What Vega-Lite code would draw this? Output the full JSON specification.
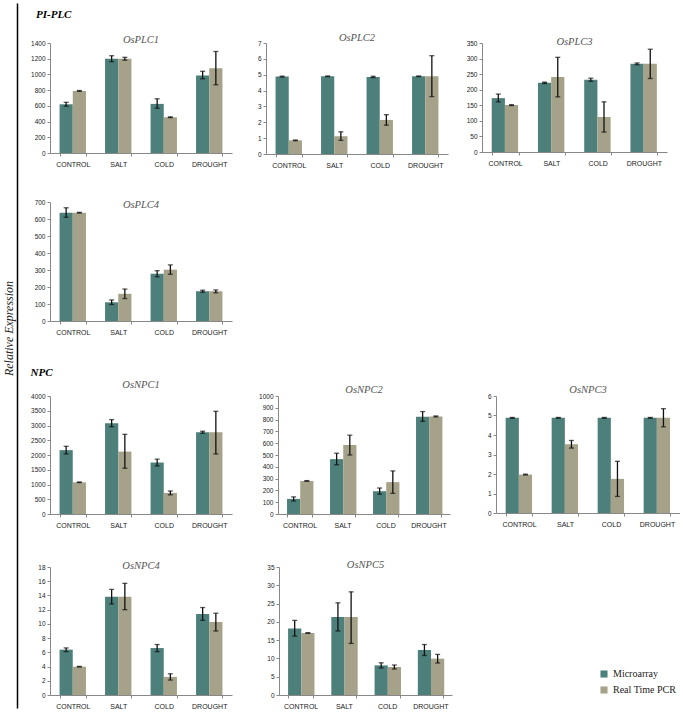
{
  "$schema": "https://vega.github.io/schema/vega-lite/v6.json",
  "padding": {"left": 2, "top": 3, "right": 0, "bottom": 0},
  "background": "white",
  "datasets": {
    "empty": [],
    "expr": [
      {"gene": "OsPLC1", "condition": "CONTROL", "method": "Microarray", "value": 620, "lo": 595, "hi": 645},
      {"gene": "OsPLC1", "condition": "CONTROL", "method": "Real Time PCR", "value": 790, "lo": 785, "hi": 795},
      {"gene": "OsPLC1", "condition": "SALT", "method": "Microarray", "value": 1200, "lo": 1162, "hi": 1238},
      {"gene": "OsPLC1", "condition": "SALT", "method": "Real Time PCR", "value": 1200, "lo": 1182, "hi": 1218},
      {"gene": "OsPLC1", "condition": "COLD", "method": "Microarray", "value": 625, "lo": 570, "hi": 690},
      {"gene": "OsPLC1", "condition": "COLD", "method": "Real Time PCR", "value": 455, "lo": 450, "hi": 460},
      {"gene": "OsPLC1", "condition": "DROUGHT", "method": "Microarray", "value": 985, "lo": 945, "hi": 1040},
      {"gene": "OsPLC1", "condition": "DROUGHT", "method": "Real Time PCR", "value": 1080, "lo": 868, "hi": 1292},
      {"gene": "OsPLC2", "condition": "CONTROL", "method": "Microarray", "value": 4.88, "lo": 4.85, "hi": 4.91},
      {"gene": "OsPLC2", "condition": "CONTROL", "method": "Real Time PCR", "value": 0.86, "lo": 0.84, "hi": 0.88},
      {"gene": "OsPLC2", "condition": "SALT", "method": "Microarray", "value": 4.9, "lo": 4.88, "hi": 4.92},
      {"gene": "OsPLC2", "condition": "SALT", "method": "Real Time PCR", "value": 1.12, "lo": 0.86, "hi": 1.4},
      {"gene": "OsPLC2", "condition": "COLD", "method": "Microarray", "value": 4.86, "lo": 4.82, "hi": 4.9},
      {"gene": "OsPLC2", "condition": "COLD", "method": "Real Time PCR", "value": 2.15, "lo": 1.82, "hi": 2.48},
      {"gene": "OsPLC2", "condition": "DROUGHT", "method": "Microarray", "value": 4.9, "lo": 4.88, "hi": 4.92},
      {"gene": "OsPLC2", "condition": "DROUGHT", "method": "Real Time PCR", "value": 4.9, "lo": 3.62, "hi": 6.2},
      {"gene": "OsPLC3", "condition": "CONTROL", "method": "Microarray", "value": 173, "lo": 161, "hi": 186},
      {"gene": "OsPLC3", "condition": "CONTROL", "method": "Real Time PCR", "value": 151, "lo": 149, "hi": 152},
      {"gene": "OsPLC3", "condition": "SALT", "method": "Microarray", "value": 222, "lo": 220, "hi": 224},
      {"gene": "OsPLC3", "condition": "SALT", "method": "Real Time PCR", "value": 241, "lo": 177, "hi": 304},
      {"gene": "OsPLC3", "condition": "COLD", "method": "Microarray", "value": 232, "lo": 227, "hi": 237},
      {"gene": "OsPLC3", "condition": "COLD", "method": "Real Time PCR", "value": 112, "lo": 64, "hi": 161},
      {"gene": "OsPLC3", "condition": "DROUGHT", "method": "Microarray", "value": 283, "lo": 280, "hi": 286},
      {"gene": "OsPLC3", "condition": "DROUGHT", "method": "Real Time PCR", "value": 283, "lo": 236, "hi": 330},
      {"gene": "OsPLC4", "condition": "CONTROL", "method": "Microarray", "value": 637, "lo": 610, "hi": 666},
      {"gene": "OsPLC4", "condition": "CONTROL", "method": "Real Time PCR", "value": 637, "lo": 635, "hi": 639},
      {"gene": "OsPLC4", "condition": "SALT", "method": "Microarray", "value": 110, "lo": 97, "hi": 124},
      {"gene": "OsPLC4", "condition": "SALT", "method": "Real Time PCR", "value": 160, "lo": 132, "hi": 188},
      {"gene": "OsPLC4", "condition": "COLD", "method": "Microarray", "value": 278, "lo": 260, "hi": 296},
      {"gene": "OsPLC4", "condition": "COLD", "method": "Real Time PCR", "value": 302, "lo": 275, "hi": 330},
      {"gene": "OsPLC4", "condition": "DROUGHT", "method": "Microarray", "value": 175, "lo": 169, "hi": 181},
      {"gene": "OsPLC4", "condition": "DROUGHT", "method": "Real Time PCR", "value": 175, "lo": 166, "hi": 183},
      {"gene": "OsNPC1", "condition": "CONTROL", "method": "Microarray", "value": 2165, "lo": 2035, "hi": 2295},
      {"gene": "OsNPC1", "condition": "CONTROL", "method": "Real Time PCR", "value": 1075, "lo": 1065, "hi": 1085},
      {"gene": "OsNPC1", "condition": "SALT", "method": "Microarray", "value": 3080, "lo": 2960, "hi": 3200},
      {"gene": "OsNPC1", "condition": "SALT", "method": "Real Time PCR", "value": 2115, "lo": 1550, "hi": 2700},
      {"gene": "OsNPC1", "condition": "COLD", "method": "Microarray", "value": 1745, "lo": 1630, "hi": 1860},
      {"gene": "OsNPC1", "condition": "COLD", "method": "Real Time PCR", "value": 715, "lo": 650, "hi": 780},
      {"gene": "OsNPC1", "condition": "DROUGHT", "method": "Microarray", "value": 2770, "lo": 2735, "hi": 2805},
      {"gene": "OsNPC1", "condition": "DROUGHT", "method": "Real Time PCR", "value": 2770, "lo": 2035, "hi": 3480},
      {"gene": "OsNPC2", "condition": "CONTROL", "method": "Microarray", "value": 128, "lo": 110, "hi": 145},
      {"gene": "OsNPC2", "condition": "CONTROL", "method": "Real Time PCR", "value": 280, "lo": 277, "hi": 283},
      {"gene": "OsNPC2", "condition": "SALT", "method": "Microarray", "value": 465, "lo": 417, "hi": 515},
      {"gene": "OsNPC2", "condition": "SALT", "method": "Real Time PCR", "value": 585, "lo": 500, "hi": 668},
      {"gene": "OsNPC2", "condition": "COLD", "method": "Microarray", "value": 193, "lo": 168, "hi": 220},
      {"gene": "OsNPC2", "condition": "COLD", "method": "Real Time PCR", "value": 270, "lo": 175, "hi": 365},
      {"gene": "OsNPC2", "condition": "DROUGHT", "method": "Microarray", "value": 825, "lo": 785, "hi": 868},
      {"gene": "OsNPC2", "condition": "DROUGHT", "method": "Real Time PCR", "value": 827, "lo": 823, "hi": 831},
      {"gene": "OsNPC3", "condition": "CONTROL", "method": "Microarray", "value": 4.88, "lo": 4.86, "hi": 4.9},
      {"gene": "OsNPC3", "condition": "CONTROL", "method": "Real Time PCR", "value": 1.97, "lo": 1.95, "hi": 1.99},
      {"gene": "OsNPC3", "condition": "SALT", "method": "Microarray", "value": 4.88, "lo": 4.86, "hi": 4.9},
      {"gene": "OsNPC3", "condition": "SALT", "method": "Real Time PCR", "value": 3.53, "lo": 3.33, "hi": 3.72},
      {"gene": "OsNPC3", "condition": "COLD", "method": "Microarray", "value": 4.88, "lo": 4.86, "hi": 4.9},
      {"gene": "OsNPC3", "condition": "COLD", "method": "Real Time PCR", "value": 1.75, "lo": 0.85, "hi": 2.65},
      {"gene": "OsNPC3", "condition": "DROUGHT", "method": "Microarray", "value": 4.88, "lo": 4.86, "hi": 4.9},
      {"gene": "OsNPC3", "condition": "DROUGHT", "method": "Real Time PCR", "value": 4.88, "lo": 4.42, "hi": 5.35},
      {"gene": "OsNPC4", "condition": "CONTROL", "method": "Microarray", "value": 6.38, "lo": 6.1, "hi": 6.62},
      {"gene": "OsNPC4", "condition": "CONTROL", "method": "Real Time PCR", "value": 3.98, "lo": 3.94, "hi": 4.02},
      {"gene": "OsNPC4", "condition": "SALT", "method": "Microarray", "value": 13.83, "lo": 12.8, "hi": 14.85},
      {"gene": "OsNPC4", "condition": "SALT", "method": "Real Time PCR", "value": 13.83, "lo": 12.0, "hi": 15.7},
      {"gene": "OsNPC4", "condition": "COLD", "method": "Microarray", "value": 6.6, "lo": 6.1, "hi": 7.1},
      {"gene": "OsNPC4", "condition": "COLD", "method": "Real Time PCR", "value": 2.55, "lo": 2.1, "hi": 2.98},
      {"gene": "OsNPC4", "condition": "DROUGHT", "method": "Microarray", "value": 11.4, "lo": 10.5, "hi": 12.3},
      {"gene": "OsNPC4", "condition": "DROUGHT", "method": "Real Time PCR", "value": 10.27, "lo": 9.0, "hi": 11.5},
      {"gene": "OsNPC5", "condition": "CONTROL", "method": "Microarray", "value": 18.2, "lo": 16.1, "hi": 20.4},
      {"gene": "OsNPC5", "condition": "CONTROL", "method": "Real Time PCR", "value": 16.95, "lo": 16.85, "hi": 17.05},
      {"gene": "OsNPC5", "condition": "SALT", "method": "Microarray", "value": 21.3, "lo": 17.5, "hi": 25.2},
      {"gene": "OsNPC5", "condition": "SALT", "method": "Real Time PCR", "value": 21.3, "lo": 14.1, "hi": 28.2},
      {"gene": "OsNPC5", "condition": "COLD", "method": "Microarray", "value": 8.1, "lo": 7.4, "hi": 8.8},
      {"gene": "OsNPC5", "condition": "COLD", "method": "Real Time PCR", "value": 7.66, "lo": 7.1, "hi": 8.2},
      {"gene": "OsNPC5", "condition": "DROUGHT", "method": "Microarray", "value": 12.3, "lo": 10.8, "hi": 13.8},
      {"gene": "OsNPC5", "condition": "DROUGHT", "method": "Real Time PCR", "value": 9.94, "lo": 8.75, "hi": 11.1}
    ]
  },
  "config": {
    "view": {"stroke": null},
    "axis": {"grid": false, "labelFont": "Liberation Sans", "labelColor": "#222", "domainColor": "#888", "tickColor": "#888", "tickSize": 3},
    "axisX": {"labelAngle": 0, "labelFontSize": 7, "labelPadding": 4, "tickBand": "extent"},
    "axisY": {"labelFontSize": 6.5, "labelPadding": 2, "labelOverlap": false},
    "title": {"font": "Liberation Serif", "fontStyle": "italic", "fontWeight": "normal", "fontSize": 10.5, "color": "#555", "offset": 3},
    "legend": {"orient": "none", "legendX": 582, "legendY": 666, "symbolType": "square", "symbolSize": 50, "symbolStrokeWidth": 0, "labelFont": "Liberation Serif", "labelFontSize": 10, "labelColor": "#222", "rowPadding": 6}
  },
  "spacing": 12,
  "hconcat": [
    {
      "width": 1, "height": 705,
      "data": {"name": "empty"},
      "mark": "point",
      "encoding": {"y": {"field": "v", "type": "quantitative", "scale": {"domain": [0, 1]}, "axis": {"title": "Relative Expression", "labels": false, "ticks": false, "domainColor": "#000", "domainWidth": 1.5, "titleFont": "Liberation Serif", "titleFontStyle": "italic", "titleFontWeight": "normal", "titleFontSize": 12, "titleColor": "#222", "titlePadding": 2, "titleY": 325}}}
    },
    {
      "spacing": 31,
      "vconcat": [
        {
          "spacing": 12,
          "vconcat": [
            {"width": 1, "height": 1, "data": {"name": "empty"}, "mark": "point", "encoding": {},
             "title": {"text": "PI-PLC", "orient": "bottom", "anchor": "start", "frame": "group", "dx": -14, "offset": 5, "fontWeight": "bold", "fontStyle": "italic", "fontSize": 11, "color": "#000"}},
            {
              "bounds": "flush",
              "spacing": 34,
              "hconcat": [
                {"width": 182, "height": 110, "title": {"text": "OsPLC1", "offset": -5},
                 "data": {"name": "expr"}, "transform": [{"filter": "datum.gene === 'OsPLC1'"}],
                 "encoding": {"x": {"field": "condition", "type": "nominal", "sort": ["CONTROL", "SALT", "COLD", "DROUGHT"], "scale": {"paddingInner": 0.42, "paddingOuter": 0.21}, "title": null}, "xOffset": {"field": "method", "type": "nominal", "sort": ["Microarray", "Real Time PCR"]}},
                 "layer": [
                   {"mark": {"type": "bar"}, "encoding": {"y": {"field": "value", "type": "quantitative", "title": null, "scale": {"domain": [0, 1400]}, "axis": {"values": [0, 200, 400, 600, 800, 1000, 1200, 1400], "format": "d"}}, "color": {"field": "method", "type": "nominal", "title": null, "scale": {"domain": ["Microarray", "Real Time PCR"], "range": ["#4d807b", "#a5a289"]}}}},
                   {"mark": {"type": "rule", "color": "#111", "strokeWidth": 1.3}, "encoding": {"y": {"field": "lo", "type": "quantitative", "title": null, "axis": {"values": [0, 200, 400, 600, 800, 1000, 1200, 1400], "format": "d"}}, "y2": {"field": "hi"}}},
                   {"mark": {"type": "tick", "color": "#111", "size": 5, "thickness": 1.3}, "encoding": {"y": {"field": "lo", "type": "quantitative", "title": null, "axis": {"values": [0, 200, 400, 600, 800, 1000, 1200, 1400], "format": "d"}}}},
                   {"mark": {"type": "tick", "color": "#111", "size": 5, "thickness": 1.3}, "encoding": {"y": {"field": "hi", "type": "quantitative", "title": null, "axis": {"values": [0, 200, 400, 600, 800, 1000, 1200, 1400], "format": "d"}}}}
                 ]},
                {"width": 182, "height": 111, "title": {"text": "OsPLC2", "offset": -3},
                 "data": {"name": "expr"}, "transform": [{"filter": "datum.gene === 'OsPLC2'"}],
                 "encoding": {"x": {"field": "condition", "type": "nominal", "sort": ["CONTROL", "SALT", "COLD", "DROUGHT"], "scale": {"paddingInner": 0.42, "paddingOuter": 0.21}, "title": null}, "xOffset": {"field": "method", "type": "nominal", "sort": ["Microarray", "Real Time PCR"]}},
                 "layer": [
                   {"mark": {"type": "bar"}, "encoding": {"y": {"field": "value", "type": "quantitative", "title": null, "scale": {"domain": [0, 7]}, "axis": {"values": [0, 1, 2, 3, 4, 5, 6, 7], "format": "d"}}, "color": {"field": "method", "type": "nominal", "title": null, "scale": {"domain": ["Microarray", "Real Time PCR"], "range": ["#4d807b", "#a5a289"]}}}},
                   {"mark": {"type": "rule", "color": "#111", "strokeWidth": 1.3}, "encoding": {"y": {"field": "lo", "type": "quantitative", "title": null, "axis": {"values": [0, 1, 2, 3, 4, 5, 6, 7], "format": "d"}}, "y2": {"field": "hi"}}},
                   {"mark": {"type": "tick", "color": "#111", "size": 5, "thickness": 1.3}, "encoding": {"y": {"field": "lo", "type": "quantitative", "title": null, "axis": {"values": [0, 1, 2, 3, 4, 5, 6, 7], "format": "d"}}}},
                   {"mark": {"type": "tick", "color": "#111", "size": 5, "thickness": 1.3}, "encoding": {"y": {"field": "hi", "type": "quantitative", "title": null, "axis": {"values": [0, 1, 2, 3, 4, 5, 6, 7], "format": "d"}}}}
                 ]},
                {"width": 185, "height": 109, "title": {"text": "OsPLC3", "offset": -7},
                 "data": {"name": "expr"}, "transform": [{"filter": "datum.gene === 'OsPLC3'"}],
                 "encoding": {"x": {"field": "condition", "type": "nominal", "sort": ["CONTROL", "SALT", "COLD", "DROUGHT"], "scale": {"paddingInner": 0.42, "paddingOuter": 0.21}, "title": null}, "xOffset": {"field": "method", "type": "nominal", "sort": ["Microarray", "Real Time PCR"]}},
                 "layer": [
                   {"mark": {"type": "bar"}, "encoding": {"y": {"field": "value", "type": "quantitative", "title": null, "scale": {"domain": [0, 350]}, "axis": {"values": [0, 50, 100, 150, 200, 250, 300, 350], "format": "d"}}, "color": {"field": "method", "type": "nominal", "title": null, "scale": {"domain": ["Microarray", "Real Time PCR"], "range": ["#4d807b", "#a5a289"]}}}},
                   {"mark": {"type": "rule", "color": "#111", "strokeWidth": 1.3}, "encoding": {"y": {"field": "lo", "type": "quantitative", "title": null, "axis": {"values": [0, 50, 100, 150, 200, 250, 300, 350], "format": "d"}}, "y2": {"field": "hi"}}},
                   {"mark": {"type": "tick", "color": "#111", "size": 5, "thickness": 1.3}, "encoding": {"y": {"field": "lo", "type": "quantitative", "title": null, "axis": {"values": [0, 50, 100, 150, 200, 250, 300, 350], "format": "d"}}}},
                   {"mark": {"type": "tick", "color": "#111", "size": 5, "thickness": 1.3}, "encoding": {"y": {"field": "hi", "type": "quantitative", "title": null, "axis": {"values": [0, 50, 100, 150, 200, 250, 300, 350], "format": "d"}}}}
                 ]}
              ]
            }
          ]
        },
        {"width": 182, "height": 119, "title": {"text": "OsPLC4", "offset": -11},
         "data": {"name": "expr"}, "transform": [{"filter": "datum.gene === 'OsPLC4'"}],
         "encoding": {"x": {"field": "condition", "type": "nominal", "sort": ["CONTROL", "SALT", "COLD", "DROUGHT"], "scale": {"paddingInner": 0.42, "paddingOuter": 0.21}, "title": null}, "xOffset": {"field": "method", "type": "nominal", "sort": ["Microarray", "Real Time PCR"]}},
         "layer": [
           {"mark": {"type": "bar"}, "encoding": {"y": {"field": "value", "type": "quantitative", "title": null, "scale": {"domain": [0, 700]}, "axis": {"values": [0, 100, 200, 300, 400, 500, 600, 700], "format": "d"}}, "color": {"field": "method", "type": "nominal", "title": null, "scale": {"domain": ["Microarray", "Real Time PCR"], "range": ["#4d807b", "#a5a289"]}}}},
           {"mark": {"type": "rule", "color": "#111", "strokeWidth": 1.3}, "encoding": {"y": {"field": "lo", "type": "quantitative", "title": null, "axis": {"values": [0, 100, 200, 300, 400, 500, 600, 700], "format": "d"}}, "y2": {"field": "hi"}}},
           {"mark": {"type": "tick", "color": "#111", "size": 5, "thickness": 1.3}, "encoding": {"y": {"field": "lo", "type": "quantitative", "title": null, "axis": {"values": [0, 100, 200, 300, 400, 500, 600, 700], "format": "d"}}}},
           {"mark": {"type": "tick", "color": "#111", "size": 5, "thickness": 1.3}, "encoding": {"y": {"field": "hi", "type": "quantitative", "title": null, "axis": {"values": [0, 100, 200, 300, 400, 500, 600, 700], "format": "d"}}}}
         ]},
        {
          "title": {"text": "NPC", "anchor": "start", "frame": "bounds", "fontWeight": "bold", "fontStyle": "italic", "fontSize": 11, "color": "#000", "offset": 2},
          "bounds": "flush",
          "spacing": 46,
          "hconcat": [
            {"width": 182, "height": 118, "title": {"text": "OsNPC1", "offset": 3},
             "data": {"name": "expr"}, "transform": [{"filter": "datum.gene === 'OsNPC1'"}],
             "encoding": {"x": {"field": "condition", "type": "nominal", "sort": ["CONTROL", "SALT", "COLD", "DROUGHT"], "scale": {"paddingInner": 0.42, "paddingOuter": 0.21}, "title": null}, "xOffset": {"field": "method", "type": "nominal", "sort": ["Microarray", "Real Time PCR"]}},
             "layer": [
               {"mark": {"type": "bar"}, "encoding": {"y": {"field": "value", "type": "quantitative", "title": null, "scale": {"domain": [0, 4000]}, "axis": {"values": [0, 500, 1000, 1500, 2000, 2500, 3000, 3500, 4000], "format": "d"}}, "color": {"field": "method", "type": "nominal", "title": null, "scale": {"domain": ["Microarray", "Real Time PCR"], "range": ["#4d807b", "#a5a289"]}}}},
               {"mark": {"type": "rule", "color": "#111", "strokeWidth": 1.3}, "encoding": {"y": {"field": "lo", "type": "quantitative", "title": null, "axis": {"values": [0, 500, 1000, 1500, 2000, 2500, 3000, 3500, 4000], "format": "d"}}, "y2": {"field": "hi"}}},
               {"mark": {"type": "tick", "color": "#111", "size": 5, "thickness": 1.3}, "encoding": {"y": {"field": "lo", "type": "quantitative", "title": null, "axis": {"values": [0, 500, 1000, 1500, 2000, 2500, 3000, 3500, 4000], "format": "d"}}}},
               {"mark": {"type": "tick", "color": "#111", "size": 5, "thickness": 1.3}, "encoding": {"y": {"field": "hi", "type": "quantitative", "title": null, "axis": {"values": [0, 500, 1000, 1500, 2000, 2500, 3000, 3500, 4000], "format": "d"}}}}
             ]},
            {"width": 172, "height": 118, "title": {"text": "OsNPC2", "offset": -2},
             "data": {"name": "expr"}, "transform": [{"filter": "datum.gene === 'OsNPC2'"}],
             "encoding": {"x": {"field": "condition", "type": "nominal", "sort": ["CONTROL", "SALT", "COLD", "DROUGHT"], "scale": {"paddingInner": 0.42, "paddingOuter": 0.21}, "title": null}, "xOffset": {"field": "method", "type": "nominal", "sort": ["Microarray", "Real Time PCR"]}},
             "layer": [
               {"mark": {"type": "bar"}, "encoding": {"y": {"field": "value", "type": "quantitative", "title": null, "scale": {"domain": [0, 1000]}, "axis": {"values": [0, 100, 200, 300, 400, 500, 600, 700, 800, 900, 1000], "format": "d"}}, "color": {"field": "method", "type": "nominal", "title": null, "scale": {"domain": ["Microarray", "Real Time PCR"], "range": ["#4d807b", "#a5a289"]}}}},
               {"mark": {"type": "rule", "color": "#111", "strokeWidth": 1.3}, "encoding": {"y": {"field": "lo", "type": "quantitative", "title": null, "axis": {"values": [0, 100, 200, 300, 400, 500, 600, 700, 800, 900, 1000], "format": "d"}}, "y2": {"field": "hi"}}},
               {"mark": {"type": "tick", "color": "#111", "size": 5, "thickness": 1.3}, "encoding": {"y": {"field": "lo", "type": "quantitative", "title": null, "axis": {"values": [0, 100, 200, 300, 400, 500, 600, 700, 800, 900, 1000], "format": "d"}}}},
               {"mark": {"type": "tick", "color": "#111", "size": 5, "thickness": 1.3}, "encoding": {"y": {"field": "hi", "type": "quantitative", "title": null, "axis": {"values": [0, 100, 200, 300, 400, 500, 600, 700, 800, 900, 1000], "format": "d"}}}}
             ]},
            {"width": 184, "height": 117, "title": {"text": "OsNPC3", "offset": -2},
             "data": {"name": "expr"}, "transform": [{"filter": "datum.gene === 'OsNPC3'"}],
             "encoding": {"x": {"field": "condition", "type": "nominal", "sort": ["CONTROL", "SALT", "COLD", "DROUGHT"], "scale": {"paddingInner": 0.42, "paddingOuter": 0.21}, "title": null}, "xOffset": {"field": "method", "type": "nominal", "sort": ["Microarray", "Real Time PCR"]}},
             "layer": [
               {"mark": {"type": "bar"}, "encoding": {"y": {"field": "value", "type": "quantitative", "title": null, "scale": {"domain": [0, 6]}, "axis": {"values": [0, 1, 2, 3, 4, 5, 6], "format": "d"}}, "color": {"field": "method", "type": "nominal", "title": null, "scale": {"domain": ["Microarray", "Real Time PCR"], "range": ["#4d807b", "#a5a289"]}}}},
               {"mark": {"type": "rule", "color": "#111", "strokeWidth": 1.3}, "encoding": {"y": {"field": "lo", "type": "quantitative", "title": null, "axis": {"values": [0, 1, 2, 3, 4, 5, 6], "format": "d"}}, "y2": {"field": "hi"}}},
               {"mark": {"type": "tick", "color": "#111", "size": 5, "thickness": 1.3}, "encoding": {"y": {"field": "lo", "type": "quantitative", "title": null, "axis": {"values": [0, 1, 2, 3, 4, 5, 6], "format": "d"}}}},
               {"mark": {"type": "tick", "color": "#111", "size": 5, "thickness": 1.3}, "encoding": {"y": {"field": "hi", "type": "quantitative", "title": null, "axis": {"values": [0, 1, 2, 3, 4, 5, 6], "format": "d"}}}}
             ]}
          ]
        },
        {
          "bounds": "flush",
          "spacing": 47,
          "hconcat": [
            {"width": 182, "height": 128, "title": {"text": "OsNPC4", "offset": -7},
             "data": {"name": "expr"}, "transform": [{"filter": "datum.gene === 'OsNPC4'"}],
             "encoding": {"x": {"field": "condition", "type": "nominal", "sort": ["CONTROL", "SALT", "COLD", "DROUGHT"], "scale": {"paddingInner": 0.42, "paddingOuter": 0.21}, "title": null}, "xOffset": {"field": "method", "type": "nominal", "sort": ["Microarray", "Real Time PCR"]}},
             "layer": [
               {"mark": {"type": "bar"}, "encoding": {"y": {"field": "value", "type": "quantitative", "title": null, "scale": {"domain": [0, 18]}, "axis": {"values": [0, 2, 4, 6, 8, 10, 12, 14, 16, 18], "format": "d"}}, "color": {"field": "method", "type": "nominal", "title": null, "scale": {"domain": ["Microarray", "Real Time PCR"], "range": ["#4d807b", "#a5a289"]}}}},
               {"mark": {"type": "rule", "color": "#111", "strokeWidth": 1.3}, "encoding": {"y": {"field": "lo", "type": "quantitative", "title": null, "axis": {"values": [0, 2, 4, 6, 8, 10, 12, 14, 16, 18], "format": "d"}}, "y2": {"field": "hi"}}},
               {"mark": {"type": "tick", "color": "#111", "size": 5, "thickness": 1.3}, "encoding": {"y": {"field": "lo", "type": "quantitative", "title": null, "axis": {"values": [0, 2, 4, 6, 8, 10, 12, 14, 16, 18], "format": "d"}}}},
               {"mark": {"type": "tick", "color": "#111", "size": 5, "thickness": 1.3}, "encoding": {"y": {"field": "hi", "type": "quantitative", "title": null, "axis": {"values": [0, 2, 4, 6, 8, 10, 12, 14, 16, 18], "format": "d"}}}}
             ]},
            {"width": 173, "height": 128, "title": {"text": "OsNPC5", "offset": -6},
             "data": {"name": "expr"}, "transform": [{"filter": "datum.gene === 'OsNPC5'"}],
             "encoding": {"x": {"field": "condition", "type": "nominal", "sort": ["CONTROL", "SALT", "COLD", "DROUGHT"], "scale": {"paddingInner": 0.42, "paddingOuter": 0.21}, "title": null}, "xOffset": {"field": "method", "type": "nominal", "sort": ["Microarray", "Real Time PCR"]}},
             "layer": [
               {"mark": {"type": "bar"}, "encoding": {"y": {"field": "value", "type": "quantitative", "title": null, "scale": {"domain": [0, 35]}, "axis": {"values": [0, 5, 10, 15, 20, 25, 30, 35], "format": "d"}}, "color": {"field": "method", "type": "nominal", "title": null, "scale": {"domain": ["Microarray", "Real Time PCR"], "range": ["#4d807b", "#a5a289"]}}}},
               {"mark": {"type": "rule", "color": "#111", "strokeWidth": 1.3}, "encoding": {"y": {"field": "lo", "type": "quantitative", "title": null, "axis": {"values": [0, 5, 10, 15, 20, 25, 30, 35], "format": "d"}}, "y2": {"field": "hi"}}},
               {"mark": {"type": "tick", "color": "#111", "size": 5, "thickness": 1.3}, "encoding": {"y": {"field": "lo", "type": "quantitative", "title": null, "axis": {"values": [0, 5, 10, 15, 20, 25, 30, 35], "format": "d"}}}},
               {"mark": {"type": "tick", "color": "#111", "size": 5, "thickness": 1.3}, "encoding": {"y": {"field": "hi", "type": "quantitative", "title": null, "axis": {"values": [0, 5, 10, 15, 20, 25, 30, 35], "format": "d"}}}}
             ]}
          ]
        }
      ]
    }
  ]
}
